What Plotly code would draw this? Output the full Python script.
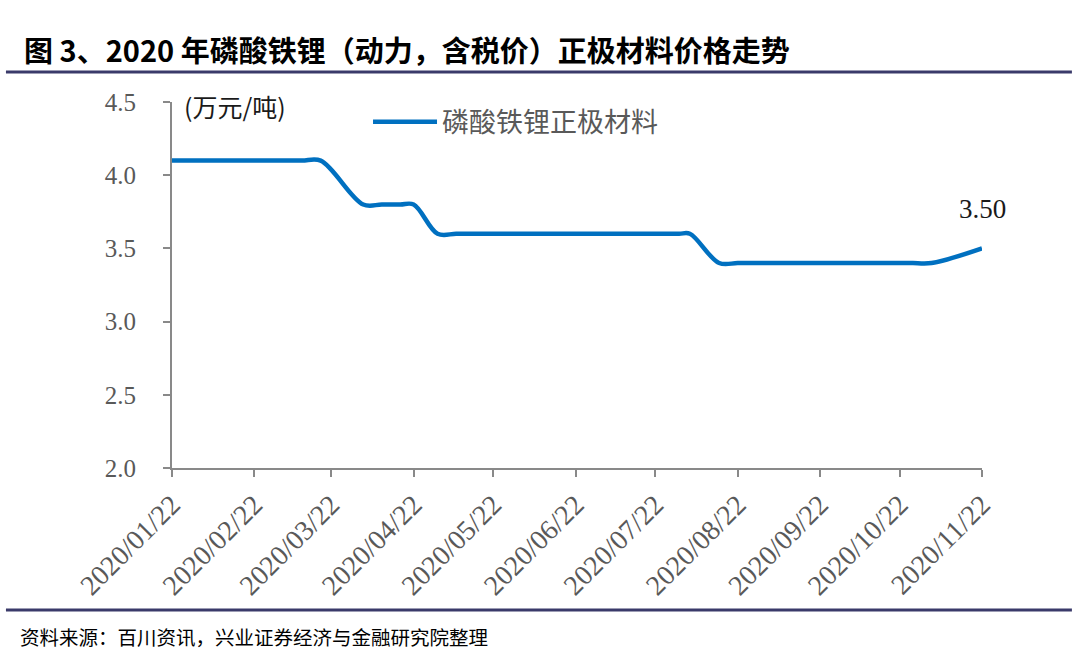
import plotly.graph_objects as go

# ---- data ----
dates = ["2020-01-22", "2020-01-29", "2020-02-05", "2020-02-12", "2020-02-19", "2020-02-26",
         "2020-03-04", "2020-03-11", "2020-03-18", "2020-04-03", "2020-04-10",
         "2020-04-17", "2020-04-22", "2020-05-01", "2020-05-08", "2020-05-15", "2020-05-22",
         "2020-05-29", "2020-06-05", "2020-06-12", "2020-06-19", "2020-06-26", "2020-07-03",
         "2020-07-10", "2020-07-17", "2020-07-24", "2020-07-31", "2020-08-04", "2020-08-15",
         "2020-08-22", "2020-08-29", "2020-09-05", "2020-09-12", "2020-09-19", "2020-09-26",
         "2020-10-03", "2020-10-10", "2020-10-17", "2020-10-24", "2020-10-27", "2020-11-03",
         "2020-11-22"]
prices = [4.1, 4.1, 4.1, 4.1, 4.1, 4.1,
          4.1, 4.1, 4.1, 3.8, 3.8,
          3.8, 3.8, 3.6, 3.6, 3.6, 3.6,
          3.6, 3.6, 3.6, 3.6, 3.6, 3.6,
          3.6, 3.6, 3.6, 3.6, 3.6, 3.4,
          3.4, 3.4, 3.4, 3.4, 3.4, 3.4,
          3.4, 3.4, 3.4, 3.4, 3.4, 3.4,
          3.5]
tick_dates = ["2020-01-22", "2020-02-22", "2020-03-22", "2020-04-22", "2020-05-22", "2020-06-22",
              "2020-07-22", "2020-08-22", "2020-09-22", "2020-10-22", "2020-11-22"]
tick_labels = ["2020/01/22", "2020/02/22", "2020/03/22", "2020/04/22", "2020/05/22", "2020/06/22",
               "2020/07/22", "2020/08/22", "2020/09/22", "2020/10/22", "2020/11/22"]
series_name = "磷酸铁锂正极材料"
y_ticks = [2.0, 2.5, 3.0, 3.5, 4.0, 4.5]
y_tick_labels = ["2.0", "2.5", "3.0", "3.5", "4.0", "4.5"]
title_text = "图 3、2020 年磷酸铁锂（动力，含税价）正极材料价格走势"
unit_text = "(万元/吨)"
source_text = "资料来源：百川资讯，兴业证券经济与金融研究院整理"
last_label = "3.50"

LINE_COLOR = "#0070C0"
AXIS_COLOR = "#898989"
TICK_COLOR = "#595959"
NAVY = "#3A3A6A"
SERIF = "Liberation Serif, Times New Roman, serif"
CJK = "Noto Sans CJK SC, sans-serif"

fig = go.Figure()
fig.add_trace(go.Scatter(
    x=dates, y=prices, mode="lines", name=series_name,
    line=dict(color=LINE_COLOR, width=4.5, shape="spline", smoothing=1.0),
    showlegend=True,
))

fig.update_layout(
    width=1080, height=668,
    margin=dict(l=172, r=98, t=102, b=200),
    paper_bgcolor="white", plot_bgcolor="white",
    showlegend=True,
    legend=dict(x=0.242, y=0.945, xanchor="left", yanchor="middle", yref="paper",
                bgcolor="rgba(0,0,0,0)", font=dict(family=CJK, size=27, color=TICK_COLOR),
                itemwidth=64),
    xaxis=dict(
        type="date", range=["2020-01-22", "2020-11-22"],
        tickmode="array", tickvals=tick_dates, ticktext=tick_labels,
        tickangle=-45, tickfont=dict(family=SERIF, size=28, color=TICK_COLOR),
        showline=True, linecolor=AXIS_COLOR, linewidth=2,
        ticks="outside", ticklen=7, tickwidth=2, tickcolor=AXIS_COLOR,
        showgrid=False, zeroline=False,
    ),
    yaxis=dict(
        range=[2.0, 4.5], tickmode="array", tickvals=y_ticks, ticktext=y_tick_labels,
        tickfont=dict(family=SERIF, size=25, color=TICK_COLOR),
        showline=True, linecolor=AXIS_COLOR, linewidth=2,
        ticks="outside", ticklen=7, tickwidth=2, tickcolor=AXIS_COLOR,
        ticklabelstandoff=22,
        showgrid=False, zeroline=False,
    ),
)

# title
fig.add_annotation(xref="paper", yref="paper", x=-0.185, y=1.0, yshift=53,
                   xanchor="left", yanchor="middle", showarrow=False,
                   text="<b>" + title_text + "</b>",
                   font=dict(family=CJK, size=29, color="black"))
# unit label
fig.add_annotation(xref="paper", yref="paper", x=0.012, y=1.0, yshift=-4,
                   xanchor="left", yanchor="middle", showarrow=False,
                   text=unit_text, font=dict(family=CJK, size=25, color="#1a1a1a"))
# last value label
fig.add_annotation(x=dates[-1], y=prices[-1], xref="x", yref="y",
                   xanchor="center", yanchor="bottom", yshift=22, showarrow=False,
                   text=last_label, font=dict(family=SERIF, size=27, color="#1a1a1a"))
# source
fig.add_annotation(xref="paper", yref="paper", x=-0.19, y=0, yshift=-168,
                   xanchor="left", yanchor="middle", showarrow=False,
                   text=source_text, font=dict(family=CJK, size=19.5, color="black"))

# separator rules (pixel offsets from plot edges)
fig.add_shape(type="line", xref="paper", yref="paper", ysizemode="pixel", yanchor=1,
              x0=-0.205, x1=1.111, y0=30, y1=30,
              line=dict(color=NAVY, width=3))
fig.add_shape(type="line", xref="paper", yref="paper", ysizemode="pixel", yanchor=0,
              x0=-0.205, x1=1.111, y0=-142, y1=-142,
              line=dict(color=NAVY, width=3))

fig.write_html("out.html")
